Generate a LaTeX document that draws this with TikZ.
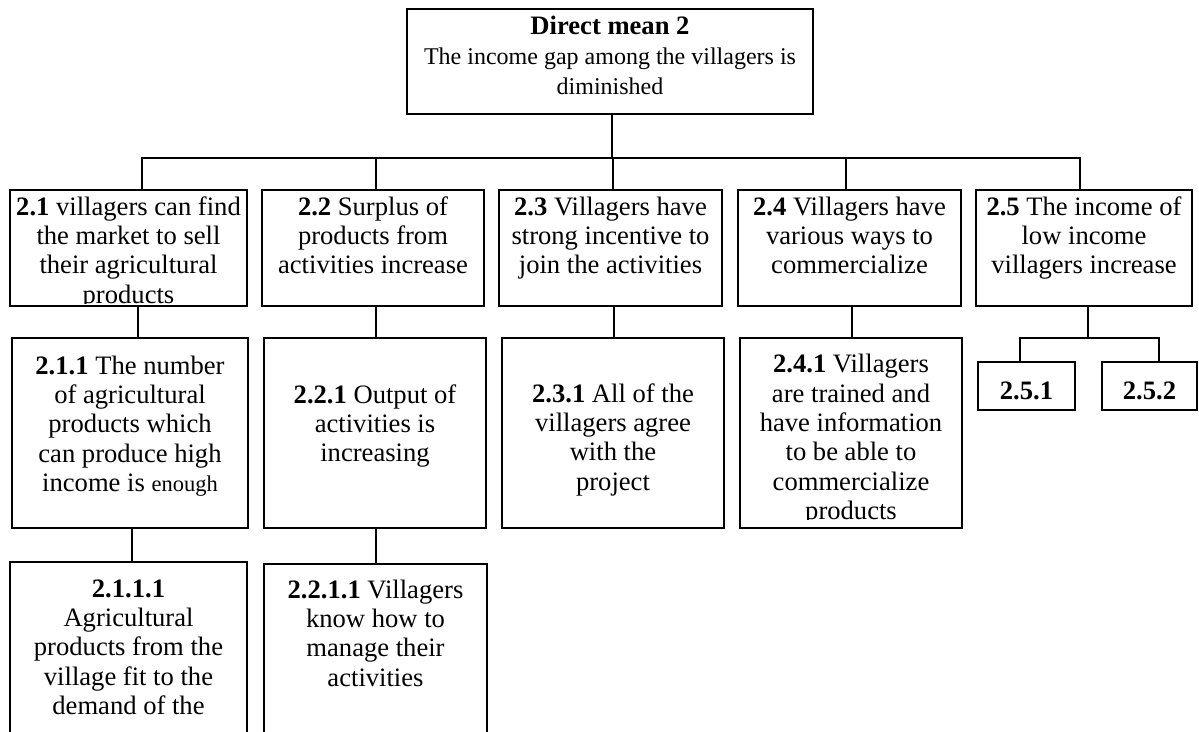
\documentclass[tikz,border=0pt]{standalone}
\usepackage{fontspec}
\setmainfont{Liberation Serif}
\begin{document}
\begin{tikzpicture}[x=1pt,y=-1pt,
  box/.style={draw, line width=1.1pt, inner sep=0pt, outer sep=0pt, anchor=north west, rectangle},
  txt/.style={align=center, inner sep=0pt, anchor=north, yshift=20.6pt, font=\fontsize{26.6}{29.4}\selectfont},
  toptxt/.style={align=center, inner sep=0pt, anchor=north, yshift=21.3pt, font=\fontsize{24}{30.4}\selectfont},
  conn/.style={line width=1.1pt}]
\useasboundingbox (0,0) rectangle (1199,731);
\clip (0,0) rectangle (1199,731);

% ---- boxes ----
\node[box, minimum width=406, minimum height=105] (top) at (407,9) {};
\node[box, minimum width=237, minimum height=116] (b21) at (10,190) {};
\node[box, minimum width=222, minimum height=116] (b22) at (262,190) {};
\node[box, minimum width=223, minimum height=116] (b23) at (499,190) {};
\node[box, minimum width=223, minimum height=116] (b24) at (738,190) {};
\node[box, minimum width=216, minimum height=116] (b25) at (976,190) {};
\node[box, minimum width=236, minimum height=190] (b211) at (12,338) {};
\node[box, minimum width=222, minimum height=190] (b221) at (264,338) {};
\node[box, minimum width=222, minimum height=190] (b231) at (502,338) {};
\node[box, minimum width=222, minimum height=190] (b241) at (740,338) {};
\node[box, minimum width=97, minimum height=48] (b251) at (978,362) {};
\node[box, minimum width=95, minimum height=48] (b252) at (1102,362) {};
\node[box, minimum width=237, minimum height=200] (b2111) at (10,562) {};
\node[box, minimum width=223, minimum height=200] (b2211) at (264,564) {};

% ---- texts ----
\node[toptxt] (ttop) at (top.north |- 0,34) {\strut{\fontsize{26.6}{30.4}\selectfont\textbf{Direct mean 2}}\\The income gap among the villagers is\\diminished};
\begin{scope}
\clip (b21.north west) rectangle ([yshift=3pt]b21.south east);
\node[txt] (t21) at (b21.north |- 0,215) {\strut\textbf{2.1} villagers can find\\the market to sell\\their agricultural\\products};
\end{scope}
\node[txt] (t22) at (b22.north |- 0,215) {\strut\textbf{2.2} Surplus of\\products from\\activities increase};
\node[txt] (t23) at (b23.north |- 0,215) {\strut\textbf{2.3} Villagers have\\strong incentive to\\join the activities};
\node[txt] (t24) at (b24.north |- 0,215) {\strut\textbf{2.4} Villagers have\\various ways to\\commercialize};
\node[txt] (t25) at (b25.north |- 0,215) {\strut\textbf{2.5} The income of\\low income\\villagers increase};
\node[txt] (t211) at (b211.north |- 0,374) {\strut\textbf{2.1.1} The number\\of agricultural\\products which\\can produce high\\income is {\fontsize{22.5}{29.4}\selectfont enough}};
\node[txt] (t221) at (b221.north |- 0,403) {\strut\textbf{2.2.1} Output of\\activities is\\increasing};
\node[txt] (t231) at (b231.north |- 0,402) {\strut\textbf{2.3.1} All of the\\villagers agree\\with the\\project};
\begin{scope}
\clip (b241.north west) rectangle ([yshift=9pt]b241.south east);
\node[txt] (t241) at (b241.north |- 0,372.5) {\strut\textbf{2.4.1} Villagers\\are trained and\\have information\\to be able to\\commercialize\\products};
\end{scope}
\node[txt] (t251) at (b251.north |- 0,399) {\strut\textbf{2.5.1}};
\node[txt] (t252) at (b252.north |- 0,399) {\strut\textbf{2.5.2}};
\node[txt] (t2111) at (b2111.north |- 0,597) {\strut\textbf{2.1.1.1}\\Agricultural\\products from the\\village fit to the\\demand of the};
\node[txt] (t2211) at (b2211.north |- 0,598) {\strut\textbf{2.2.1.1} Villagers\\know how to\\manage their\\activities};

% ---- connectors level 1 ----
\coordinate (j0) at (612,158);
\coordinate (busL) at (142,158);
\coordinate (busR) at (1080,158);
\coordinate (d22) at (376,158);
\coordinate (d23) at (613,158);
\coordinate (d24) at (846,158);
\draw[conn] (top.south -| j0) -- (j0);
\draw[conn] (busL |- b21.north) -- (busL) -- (busR) -- (busR |- b25.north);
\draw[conn] (d22) -- (d22 |- b22.north);
\draw[conn] (d23) -- (d23 |- b23.north);
\draw[conn] (d24) -- (d24 |- b24.north);

% ---- connectors level 2 ----
\coordinate (e21) at (138,320);
\coordinate (e22) at (376,320);
\coordinate (e23) at (614,320);
\coordinate (e24) at (852,320);
\draw[conn] (b21.south -| e21) -- (b211.north -| e21);
\draw[conn] (b22.south -| e22) -- (b221.north -| e22);
\draw[conn] (b23.south -| e23) -- (b231.north -| e23);
\draw[conn] (b24.south -| e24) -- (b241.north -| e24);
\coordinate (k25) at (1088,338);
\coordinate (kL) at (1020,338);
\coordinate (kR) at (1159,338);
\draw[conn] (b25.south -| k25) -- (k25);
\draw[conn] (kL |- b251.north) -- (kL) -- (kR) -- (kR |- b252.north);

% ---- connectors level 3 ----
\coordinate (f211) at (132,545);
\coordinate (f221) at (376,545);
\draw[conn] (b211.south -| f211) -- (b2111.north -| f211);
\draw[conn] (b221.south -| f221) -- (b2211.north -| f221);
\end{tikzpicture}
\end{document}
